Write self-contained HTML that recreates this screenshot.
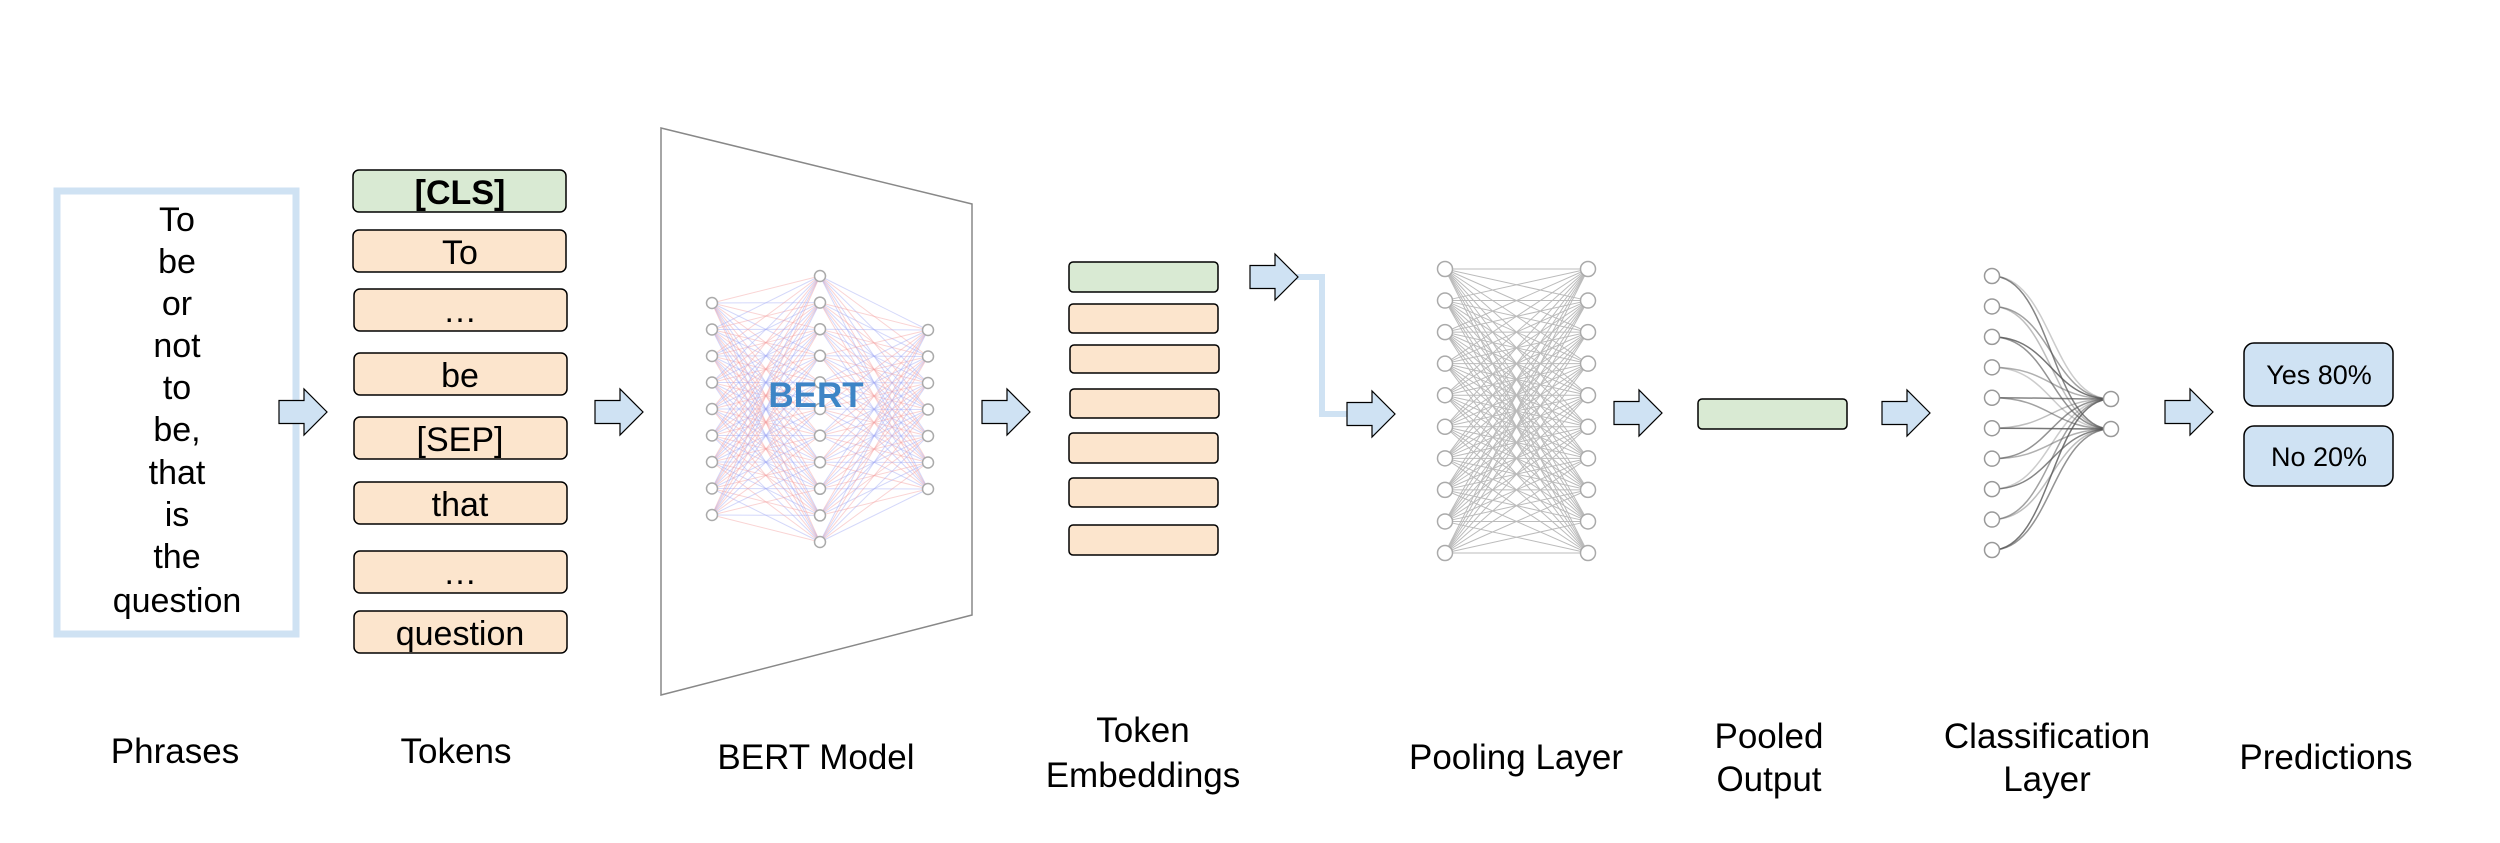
<!DOCTYPE html>
<html><head><meta charset="utf-8"><style>
html,body{margin:0;padding:0;background:#fff;}
svg{display:block;font-family:"Liberation Sans",Arial,sans-serif;}
</style></head><body>
<svg id="s" width="2500" height="843" viewBox="0 0 2500 843" xmlns="http://www.w3.org/2000/svg">
<rect width="2500" height="843" fill="#fff"/>
<rect x="57" y="191" width="239" height="443" fill="none" stroke="#cfe2f3" stroke-width="7"/>
<g font-size="34" text-anchor="middle" fill="#000">
<text x="177" y="231">To</text><text x="177" y="273">be</text><text x="177" y="315">or</text>
<text x="177" y="357">not</text><text x="177" y="399">to</text><text x="177" y="441">be,</text>
<text x="177" y="484">that</text><text x="177" y="526">is</text><text x="177" y="568">the</text>
<text x="177" y="612">question</text>
</g>
<g stroke="#000" stroke-width="1.5">
<rect x="353" y="170" width="213" height="42" rx="6" fill="#d9ead3"/>
<rect x="353" y="230" width="213" height="42" rx="6" fill="#fce5cd"/>
<rect x="354" y="289" width="213" height="42" rx="6" fill="#fce5cd"/>
<rect x="354" y="353" width="213" height="42" rx="6" fill="#fce5cd"/>
<rect x="354" y="417" width="213" height="42" rx="6" fill="#fce5cd"/>
<rect x="354" y="482" width="213" height="42" rx="6" fill="#fce5cd"/>
<rect x="354" y="551" width="213" height="42" rx="6" fill="#fce5cd"/>
<rect x="354" y="611" width="213" height="42" rx="6" fill="#fce5cd"/>
</g>
<g font-size="34" text-anchor="middle" fill="#000">
<text x="460" y="204" font-weight="bold">[CLS]</text>
<text x="460" y="264">To</text><text x="460" y="322">…</text><text x="460" y="387">be</text>
<text x="460" y="451">[SEP]</text><text x="460" y="516">that</text><text x="460" y="584">…</text>
<text x="460" y="645">question</text>
</g>
<polygon points="661,128 972,204 972,615 661,695" fill="#fff" stroke="#888" stroke-width="1.5"/>
<g id="bert"></g>
<text x="816" y="407" font-size="35" font-weight="bold" fill="#3d85c6" text-anchor="middle">BERT</text>
<g stroke="#000" stroke-width="1.5">
<rect x="1069" y="262" width="149" height="30" rx="4" fill="#d9ead3"/>
<rect x="1069" y="304" width="149" height="29" rx="4" fill="#fce5cd"/>
<rect x="1070" y="345" width="149" height="28" rx="4" fill="#fce5cd"/>
<rect x="1070" y="389" width="149" height="29" rx="4" fill="#fce5cd"/>
<rect x="1069" y="433" width="149" height="30" rx="4" fill="#fce5cd"/>
<rect x="1069" y="478" width="149" height="29" rx="4" fill="#fce5cd"/>
<rect x="1069" y="525" width="149" height="30" rx="4" fill="#fce5cd"/>
<rect x="1698" y="399" width="149" height="30" rx="4" fill="#d9ead3"/>
</g>
<polyline points="1296,277 1322,277 1322,414 1348,414" fill="none" stroke="#cfe2f3" stroke-width="6"/>
<g id="pool"></g>
<g id="cls"></g>
<g id="arrows"></g>
<rect x="2244" y="343" width="149" height="63" rx="10" fill="#cfe2f3" stroke="#000" stroke-width="1.5"/>
<rect x="2244" y="426" width="149" height="60" rx="10" fill="#cfe2f3" stroke="#000" stroke-width="1.5"/>
<text x="2319" y="384" font-size="27" text-anchor="middle">Yes 80%</text>
<text x="2319" y="466" font-size="27" text-anchor="middle">No 20%</text>
<g font-size="35" text-anchor="middle" fill="#000">
<text x="175" y="763">Phrases</text>
<text x="456" y="763">Tokens</text>
<text x="816" y="769">BERT Model</text>
<text x="1143" y="742">Token</text><text x="1143" y="787">Embeddings</text>
<text x="1516" y="769">Pooling Layer</text>
<text x="1769" y="748">Pooled</text><text x="1769" y="791">Output</text>
<text x="2047" y="748">Classification</text><text x="2047" y="791">Layer</text>
<text x="2326" y="769">Predictions</text>
</g>
</svg>
<script>
var NS="http://www.w3.org/2000/svg";
function el(p,t,a){var e=document.createElementNS(NS,t);for(var k in a)e.setAttribute(k,a[k]);document.getElementById(p).appendChild(e);return e;}
function col(x,y0,y1,n){var r=[];for(var i=0;i<n;i++)r.push([x,y0+(y1-y0)*i/(n-1)]);return r;}
var c1=col(712,303,515,9),c2=col(820,276,542,11),c3=col(928,330,489,7);
var k=0;
function conn(A,B){A.forEach(function(a){B.forEach(function(b){k++;el("bert","line",{x1:a[0],y1:a[1],x2:b[0],y2:b[1],stroke:(k%2?"#f4a0a0":"#a0a8f4"),"stroke-width":1,"stroke-opacity":0.45});});});}
conn(c1,c2);conn(c2,c3);
[c1,c2,c3].forEach(function(c){c.forEach(function(p){el("bert","circle",{cx:p[0],cy:p[1],r:5.5,fill:"#fff",stroke:"#aaa","stroke-width":1.5});});});
var p1=col(1445,269,553,10),p2=col(1588,269,553,10);
p1.forEach(function(a){p2.forEach(function(b){el("pool","line",{x1:a[0],y1:a[1],x2:b[0],y2:b[1],stroke:"#bbb","stroke-width":1});});});
p1.concat(p2).forEach(function(p){el("pool","circle",{cx:p[0],cy:p[1],r:7.5,fill:"#fff",stroke:"#aaa","stroke-width":1.5});});
var q1=col(1992,276,550,10),q2=[[2111,399],[2111,429]];
q1.forEach(function(a,i){q2.forEach(function(b,j){var mx=(a[0]+b[0])/2;var op=0.3+0.5*((i*3+j*5)%7)/6;
el("cls","path",{d:"M"+a[0]+","+a[1]+" C"+mx+","+a[1]+" "+mx+","+b[1]+" "+b[0]+","+b[1],fill:"none",stroke:"#555","stroke-width":1.5,"stroke-opacity":op});});});
q1.concat(q2).forEach(function(p){el("cls","circle",{cx:p[0],cy:p[1],r:7.5,fill:"#fff",stroke:"#999","stroke-width":1.5});});
function arrowPts(x,cy){var w=48,h=46,hx=x+25;return [[x,cy-11.5],[hx,cy-11.5],[hx,cy-h/2],[x+w,cy],[hx,cy+h/2],[hx,cy+11.5],[x,cy+11.5]].map(function(p){return p.join(",");}).join(" ");}
[[279,412],[595,412],[982,412],[1250,277],[1347,414],[1614,413],[1882,413],[2165,412]].forEach(function(a){el("arrows","polygon",{points:arrowPts(a[0],a[1]),fill:"#cfe2f3",stroke:"#000","stroke-width":1.2});});
</script>
</body></html>
